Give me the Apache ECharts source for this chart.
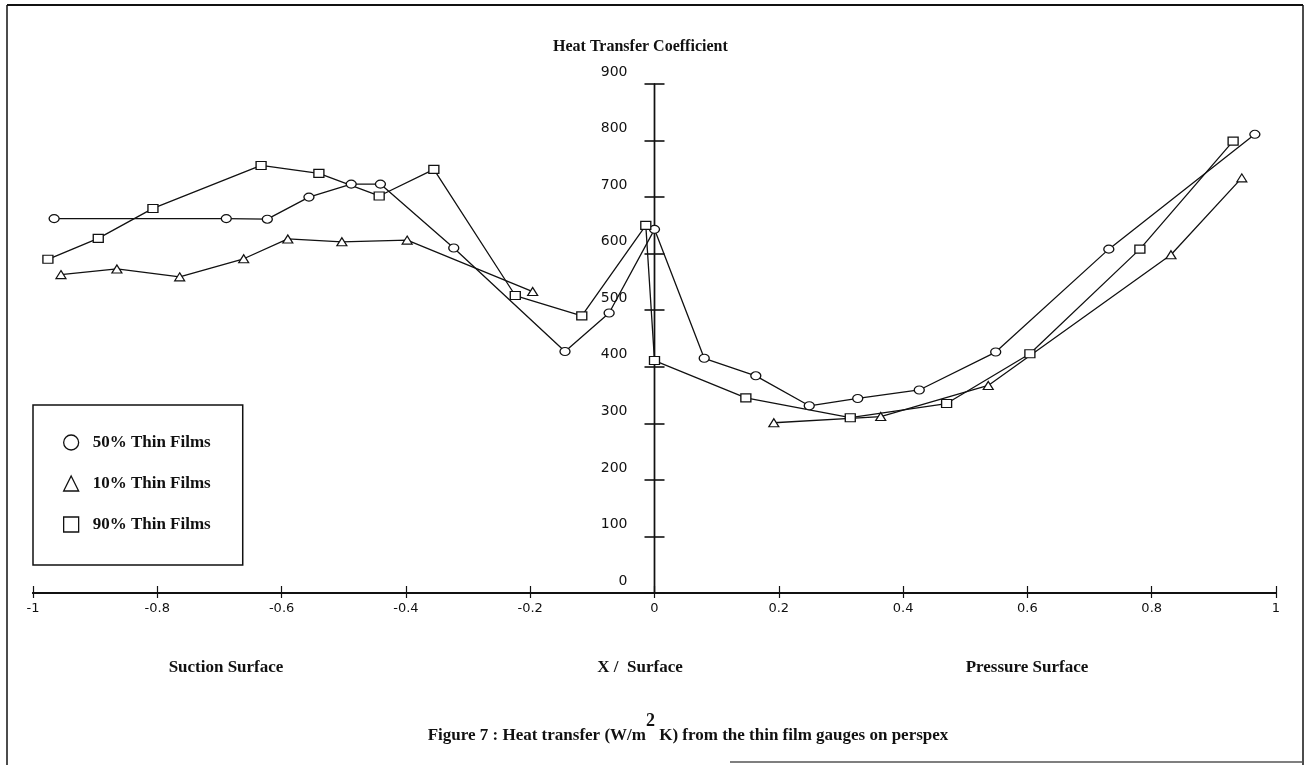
<!DOCTYPE html>
<html>
<head>
<meta charset="utf-8">
<script src="https://cdn.jsdelivr.net/npm/echarts@6/dist/echarts.min.js"></script>
<style>
  html, body { margin: 0; padding: 0; background: #fff; }
  #chart { width: 1309px; height: 765px; }
</style>
</head>
<body>
<div id="chart"></div>
<script>
// Heat transfer coefficient around the blade, X / Surface from -1 (suction) to 1 (pressure)
const seriesNames = ['50% Thin Films', '10% Thin Films', '90% Thin Films'];

const film50X = [-0.966, -0.689, -0.623, -0.556, -0.488, -0.441, -0.323, -0.144, -0.073, 0.0,
                 0.080, 0.163, 0.249, 0.327, 0.426, 0.549, 0.731, 0.966];
const film50Y = [662, 662, 661, 700, 723, 723, 610, 427, 495, 643,
                 415, 384, 331, 344, 359, 426, 608, 811];

// null splits the suction-side and pressure-side runs
const film10X = [-0.955, -0.865, -0.764, -0.661, -0.590, -0.503, -0.398, -0.196, null,
                 0.192, 0.364, 0.537, 0.831, 0.945];
const film10Y = [563, 573, 559, 591, 626, 621, 624, 533, null,
                 301, 312, 367, 598, 734];

const film90X = [-0.976, -0.895, -0.807, -0.633, -0.540, -0.443, -0.355, -0.224, -0.117, -0.014,
                 0.0, 0.147, 0.315, 0.470, 0.604, 0.781, 0.931];
const film90Y = [590, 627, 680, 756, 742, 702, 749, 526, 490, 650,
                 411, 345, 310, 335, 423, 608, 799];

const xMin = -1, xMax = 1, xStep = 0.2;
const yMin = 0, yMax = 900, yStep = 100;

const axisTitle = 'Heat Transfer Coefficient';
const bottomLabels = ['Suction Surface', 'X /  Surface', 'Pressure Surface'];

function pairs(xs, ys) {
  return xs.map((x, i) => (x === null ? null : [x, ys[i]]));
}

const ink = '#111';
const serif = '"Liberation Serif", "DejaVu Serif", serif';
const sans = '"DejaVu Sans", sans-serif';

// plot area
const W = 1309, H = 765;
const gridLeft = 33, gridRight = 33, gridTop = 84, gridBottom = 172;
// shift that brings the vertical axis onto x = 0 (middle of the x range)
const yAxisShift = -(W - gridLeft - gridRight) * (0 - xMin) / (xMax - xMin);

const chart = echarts.init(document.getElementById('chart'), null, { renderer: 'canvas' });

function lineSeries(name, data, symbol) {
  return {
    name: name,
    type: 'line',
    data: data,
    xAxisIndex: 0,
    yAxisIndex: 0,
    symbol: symbol,
    symbolSize: [10, 8],
    showAllSymbol: true,
    connectNulls: false,
    lineStyle: { color: ink, width: 1.3 },
    itemStyle: { color: '#fff', borderColor: ink, borderWidth: 1.2 },
    emphasis: { disabled: true },
    animation: false,
    z: 3
  };
}

const baseX = {
  type: 'value', min: xMin, max: xMax, interval: xStep, position: 'bottom',
  splitLine: { show: false },
  axisLine: { onZero: false, lineStyle: { color: ink, width: 2 } }
};
const baseY = {
  type: 'value', min: yMin, max: yMax, interval: yStep, position: 'left', offset: yAxisShift,
  splitLine: { show: false },
  axisLine: { onZero: false, lineStyle: { color: ink, width: 1.4 } }
};

const option = {
  backgroundColor: '#fff',
  animation: false,
  grid: {
    left: gridLeft, right: gridRight, top: gridTop, bottom: gridBottom,
    containLabel: false, outerBoundsMode: 'none'
  },
  xAxis: [
    Object.assign({}, baseX, {
      axisTick: { show: true, inside: false, length: 5, lineStyle: { color: ink, width: 1.2 } },
      axisLabel: {
        show: true, margin: 9, color: ink, fontFamily: sans, fontSize: 13,
        formatter: v => String(Math.round(v * 10) / 10)
      }
    }),
    Object.assign({}, baseX, {
      axisTick: { show: true, inside: true, length: 7, lineStyle: { color: ink, width: 1.2 } },
      axisLabel: { show: false }
    })
  ],
  yAxis: [
    Object.assign({}, baseY, {
      axisTick: { show: true, inside: false, length: 10, lineStyle: { color: ink, width: 1.6 } },
      axisLabel: {
        show: true, margin: 27, color: ink, fontFamily: sans, fontSize: 14,
        verticalAlign: 'bottom', lineHeight: 24
      }
    }),
    Object.assign({}, baseY, {
      axisTick: { show: true, inside: true, length: 10, lineStyle: { color: ink, width: 1.6 } },
      axisLabel: { show: false }
    })
  ],
  legend: {
    orient: 'vertical',
    left: 33, top: 405,
    padding: [29, 32, 32, 30],
    itemGap: 24,
    itemWidth: 15,
    itemHeight: 15,
    backgroundColor: '#fff',
    borderColor: ink,
    borderWidth: 1.5,
    borderRadius: 0,
    selectedMode: false,
    textStyle: { color: ink, fontFamily: serif, fontSize: 17, fontWeight: 'bold', padding: [0, 0, 0, 9] },
    data: [
      { name: seriesNames[0], icon: 'circle', itemStyle: { color: '#fff', borderColor: ink, borderWidth: 1.3 } },
      { name: seriesNames[1], icon: 'triangle', itemStyle: { color: '#fff', borderColor: ink, borderWidth: 1.3 } },
      { name: seriesNames[2], icon: 'rect', itemStyle: { color: '#fff', borderColor: ink, borderWidth: 1.3 } }
    ]
  },
  series: [
    lineSeries(seriesNames[0], pairs(film50X, film50Y), 'circle'),
    lineSeries(seriesNames[1], pairs(film10X, film10Y), 'triangle'),
    lineSeries(seriesNames[2], pairs(film90X, film90Y), 'rect')
  ],
  graphic: [
    // page frame
    { type: 'line', shape: { x1: 7, y1: 5, x2: 1303, y2: 5 }, style: { stroke: ink, lineWidth: 2 }, silent: true },
    { type: 'line', shape: { x1: 7, y1: 5, x2: 7, y2: 765 }, style: { stroke: ink, lineWidth: 1.5 }, silent: true },
    { type: 'line', shape: { x1: 1303, y1: 5, x2: 1303, y2: 765 }, style: { stroke: ink, lineWidth: 1.5 }, silent: true },
    { type: 'line', shape: { x1: 730, y1: 762, x2: 1303, y2: 762 }, style: { stroke: '#555', lineWidth: 1.5 }, silent: true },
    {
      type: 'text', left: 553, top: 39, silent: true,
      style: { text: axisTitle, fill: ink, font: 'bold 16px ' + serif }
    },
    {
      type: 'text', x: 226, y: 668, silent: true,
      style: { text: bottomLabels[0], fill: ink, font: 'bold 17px ' + serif, align: 'center', verticalAlign: 'middle' }
    },
    {
      type: 'text', x: 640, y: 668, silent: true,
      style: { text: bottomLabels[1], fill: ink, font: 'bold 17px ' + serif, align: 'center', verticalAlign: 'middle' }
    },
    {
      type: 'text', x: 1027, y: 668, silent: true,
      style: { text: bottomLabels[2], fill: ink, font: 'bold 17px ' + serif, align: 'center', verticalAlign: 'middle' }
    },
    {
      type: 'text', x: 688, y: 728, silent: true,
      style: {
        text: '{t|Figure 7 : Heat transfer (W/m}{s|2}{t| K) from the thin film gauges on perspex}',
        align: 'center', verticalAlign: 'middle',
        rich: {
          t: { fill: ink, fontFamily: serif, fontSize: 17, fontWeight: 'bold', verticalAlign: 'bottom', lineHeight: 32 },
          s: { fill: ink, fontFamily: serif, fontSize: 18, fontWeight: 'bold', verticalAlign: 'top', lineHeight: 20, padding: [0, 0, 12, 0] }
        }
      }
    }
  ]
};

chart.setOption(option);
</script>
</body>
</html>
